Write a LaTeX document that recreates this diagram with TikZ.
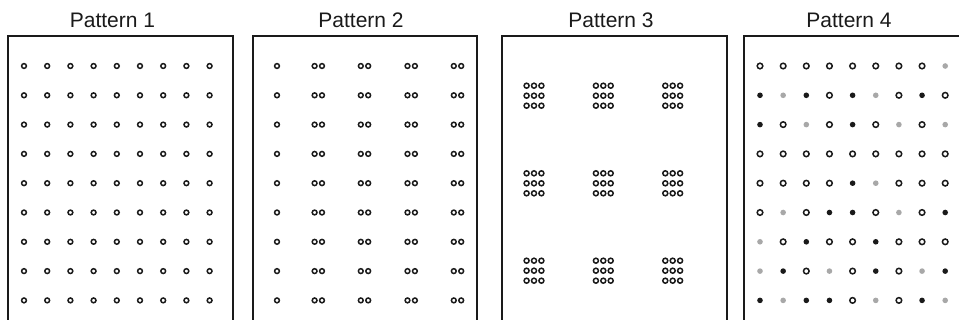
\documentclass[tikz,border=0pt]{standalone}
\usepackage{fontspec}
\setmainfont{Liberation Sans}
\usepackage{tikz}
\usetikzlibrary{positioning}
\definecolor{cInk}{HTML}{1A1A1A}
\definecolor{cGrey}{HTML}{A8A8A8}
\tikzset{
  panel/.style={draw=cInk, line width=1.5pt},
  title/.style={anchor=base, inner sep=0pt, text=cInk,
    font=\fontsize{21}{25}\selectfont},
  ring/.style={draw=cInk, line width=1.5pt, fill=white},
  blk/.style={fill=cInk},
  gry/.style={fill=cGrey},
}

\begin{document}
\begin{tikzpicture}[x=1pt, y=-1pt]
  \clip (0,0) rectangle (959,320);
  \fill[white] (0,0) rectangle (959,320);

  % Frames
  \draw[panel] (8,36) rectangle (233,320.5);
  \draw[panel] (253,36) rectangle (477,320.5);
  \draw[panel] (502,36) rectangle (727,320.5);
  \draw[panel] (744,36) rectangle (969,320.5);

  % Titles
  \node[title] (t1) at (112.5,28) {Pattern 1};
  \node[title] (t2) at (361,28) {Pattern 2};
  \node[title] (t3) at (611,28) {Pattern 3};
  \node[title] (t4) at (849,28) {Pattern 4};

  % Pattern 1: regular grid
  \foreach \i in {0,...,8}
    \foreach \j in {0,...,8}
      \path[ring] (24+23.2*\j, 66+29.3*\i) circle (2.4);

  % Pattern 2: one column, then pairs
  \foreach \i in {0,...,8} {
    \path[ring] (277, 66+29.3*\i) circle (2.4);
    \foreach \c in {318.3,364.5,411.2,457.5} {
      \path[ring] (\c-3.7, 66+29.3*\i) circle (2.4);
      \path[ring] (\c+3.7, 66+29.3*\i) circle (2.4);
    }
  }

  % Pattern 3: 3x3 clusters
  \foreach \cx in {534,603.3,672.7}
    \foreach \cy in {95.7,183.3,270.7}
      \foreach \a in {-1,0,1}
        \foreach \b in {-1,0,1}
          \path[ring] (\cx+7.4*\a, \cy+10*\b) circle (2.5);

  % Pattern 4: mixed states
  \foreach \row [count=\i from 0] in {
      {ring,ring,ring,ring,ring,ring,ring,ring,gry},
      {blk,gry,blk,ring,blk,gry,ring,blk,ring},
      {blk,ring,gry,ring,blk,ring,gry,ring,gry},
      {ring,ring,ring,ring,ring,ring,ring,ring,ring},
      {ring,ring,ring,ring,blk,gry,ring,ring,ring},
      {ring,gry,ring,blk,blk,ring,gry,ring,blk},
      {gry,ring,blk,ring,ring,blk,ring,ring,ring},
      {gry,blk,ring,gry,ring,blk,ring,gry,blk},
      {blk,gry,blk,blk,ring,gry,ring,blk,gry}}
    \foreach \k [count=\j from 0] in \row
      \path[\k] (760+23.15*\j, 66+29.3*\i) circle (2.8);

\end{tikzpicture}
\end{document}
